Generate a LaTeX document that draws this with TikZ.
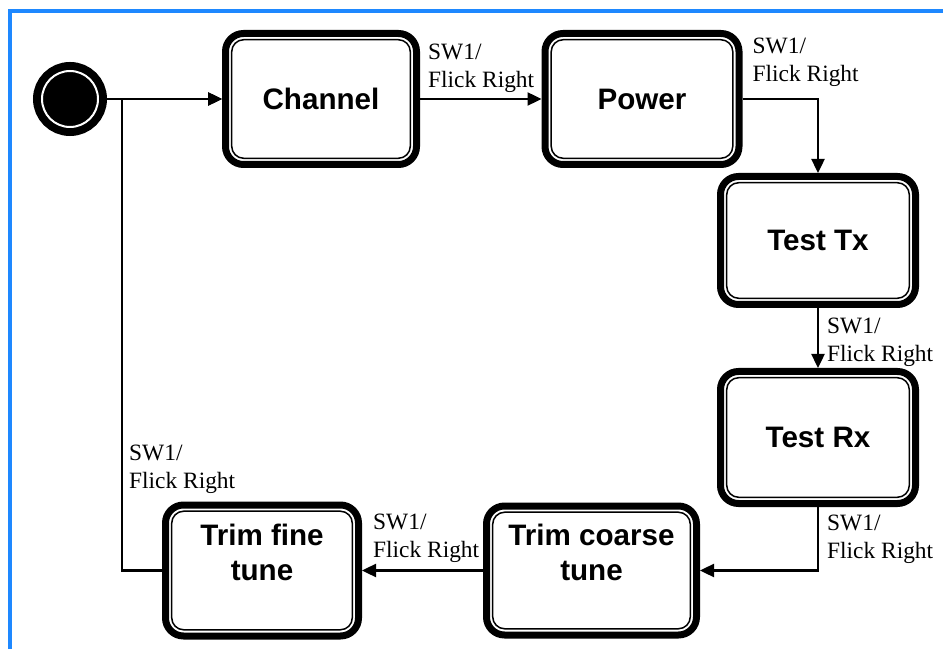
\documentclass[tikz,border=0pt]{standalone}
\usepackage{fontspec}
\setmainfont{Liberation Serif}
\newfontfamily\statefont{Liberation Sans}
\usetikzlibrary{arrows.meta}
\definecolor{frameblue}{RGB}{30,136,255}

\begin{document}
\begin{tikzpicture}[x=.5pt,y=.5pt,line width=1.2pt,
  state/.style={draw,line width=3.5pt,rounded corners=9pt,fill=white,
    minimum width=97pt,minimum height=65.5pt,align=center,
    font=\statefont\bfseries\fontsize{14.8}{17.5}\selectfont},
  inner/.style={line width=.75pt,rounded corners=6pt},
  init/.style={circle,fill=black,draw=white,line width=1pt,minimum size=28pt,
    inner sep=0pt,preaction={draw=black,line width=9pt}},
  lbl/.style={inner sep=0pt,align=left,font=\rmfamily\mdseries\fontsize{11.7}{14}\selectfont},
  arr/.style={-{Triangle[length=7pt,width=6.5pt]}}]
\useasboundingbox (0,0) rectangle (943,649);
\draw[frameblue,line width=1.75pt] (10,0)--(10,638)--(943,638);

\node[init] (start) at (70,550) {};
\node[state,minimum width=95.5pt] (chan) at (321,550) {Channel};
\node[state] (pow) at (642,550) {Power};
\node[state,minimum width=97.5pt,minimum height=64pt] (ttx) at (818,408.5) {Test Tx};
\node[state,minimum width=97.5pt,minimum height=66pt] (trx) at (818,211.5) {Test Rx};
\node[state,minimum width=105pt,minimum height=64.5pt,text depth=18pt] (tcoarse) at (591.5,78.5) {Trim coarse\\tune};
\node[state,minimum width=96.5pt,text depth=18pt] (tfine) at (262,78.5) {Trim fine\\tune};
\coordinate (back) at (122,550);

% second (thin) border of each state
\foreach \n in {chan,pow,ttx,trx,tcoarse,tfine}
  \draw[inner] ([shift={(4.85pt,4.85pt)}]\n.south west) rectangle ([shift={(-4.85pt,-4.85pt)}]\n.north east);

\draw[arr] (start)--(chan);
\draw[arr] (chan)--node[lbl,anchor=south west,pos=0,xshift=3.5pt,yshift=2.5pt] {SW1/\\Flick Right} (pow);
\draw[arr] (pow.east)-|node[lbl,anchor=south west,pos=0,xshift=4.5pt,yshift=5.5pt] {SW1/\\Flick Right} (ttx.north);
\draw[arr] (ttx)--node[lbl,anchor=north west,pos=0,xshift=4pt,yshift=-4.5pt] {SW1/\\Flick Right} (trx);
\draw[arr] (trx.south)|-node[lbl,anchor=north west,pos=0,xshift=4pt,yshift=-3.5pt] {SW1/\\Flick Right} (tcoarse.east);
\draw[arr] (tcoarse)--node[lbl,anchor=south west,pos=1,xshift=5pt,yshift=3.5pt] {SW1/\\Flick Right} (tfine);
\draw[arr] (tfine.west)-|node[lbl,anchor=south west,pos=.58,xshift=3pt] {SW1/\\Flick Right} (back)--(chan);
\end{tikzpicture}
\end{document}
